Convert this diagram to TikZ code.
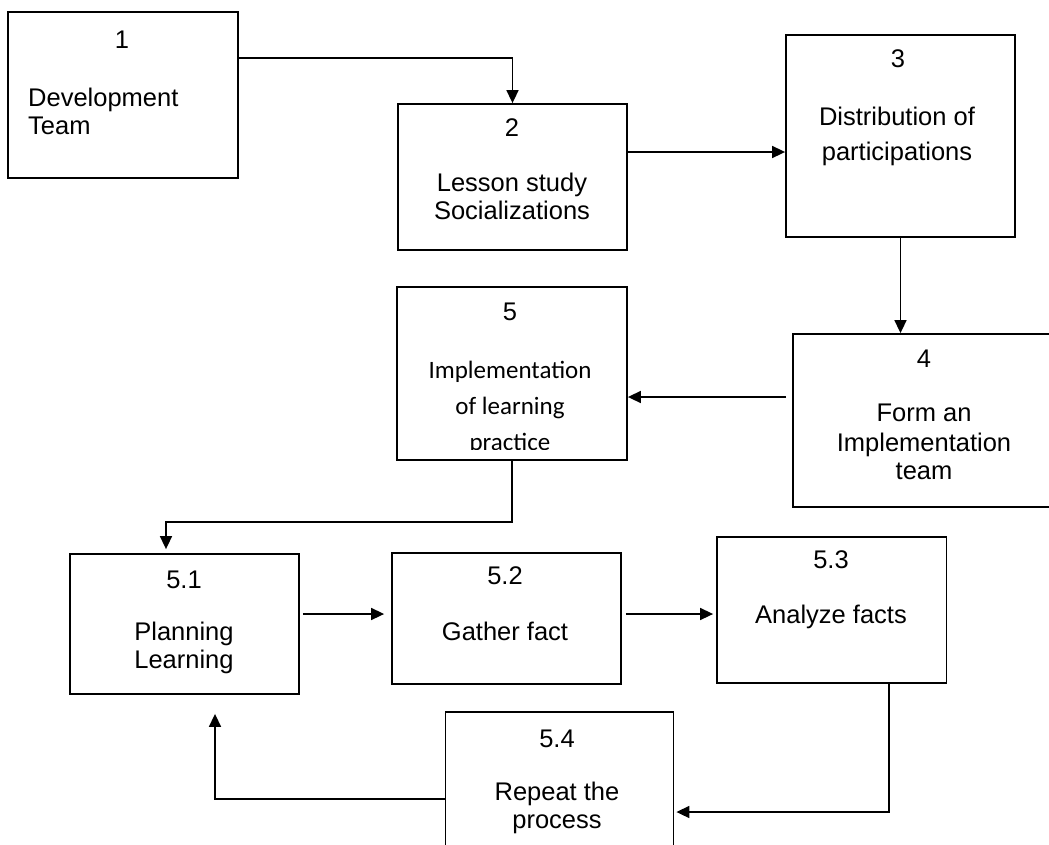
\documentclass[tikz,border=0pt]{standalone}
\usepackage{fontspec}
\setmainfont{Liberation Sans}
\newfontfamily\calfont{Carlito}
\usetikzlibrary{arrows.meta}

\begin{document}
\begin{tikzpicture}[x=1pt, y=-1pt,
    box/.style={draw, line width=1.8pt, inner sep=0pt},
    txt/.style={inner sep=0pt, align=center, font=\fontsize{25.5}{28}\selectfont},
    arr/.style={line width=1.6pt, -{Triangle[length=13pt, width=12pt]}}]

    \useasboundingbox (0,0) rectangle (1049,844);
    \clip (0,0) rectangle (1049,844);

    % boxes
    \node[box, minimum width=230pt, minimum height=166pt] (dev) at (123,95) {};
    \node[box, minimum width=229pt, minimum height=146pt] (lesson) at (512.5,177) {};
    \node[box, minimum width=229pt, minimum height=202pt] (distrib) at (900.5,136) {};
    \node[box, minimum width=262pt, minimum height=173pt] (formteam) at (924,420.5) {};
    \node[box, minimum width=230pt, minimum height=173pt] (implement) at (512,373.5) {};
    \node[box, minimum width=229pt, minimum height=140pt] (plan) at (184.5,624) {};
    \node[box, minimum width=229pt, minimum height=131pt] (gather) at (506.5,618.5) {};
    \node[box, minimum width=229.5pt, minimum height=146pt] (analyze) at (831.75,610) {};
    \node[box, minimum width=228pt, minimum height=148pt] (repeat) at (559.5,786) {};

    % labels
    \node[txt] (dev-num) at (122,40) {1};
    \node[txt, align=left, anchor=west] (dev-txt) at (28,111) {Development\\Team};
    \node[txt] (lesson-num) at (512,128) {2};
    \node[txt] (lesson-txt) at (512,196.5) {Lesson study\\Socializations};
    \node[txt] (distrib-num) at (898,59) {3};
    \node[txt] (distrib-txt) at (897,136) {Distribution of\\[7pt]participations};
    \node[txt] (formteam-num) at (924,359) {4};
    \node[txt] (formteam-txt) at (924,442) {Form an\\[2pt]Implementation\\team};
    \node[txt] (implement-num) at (510,312) {5};
    \begin{scope}
        \clip (397,287) rectangle (627,449);
        \node[txt, font=\calfont\fontsize{25}{36}\selectfont] (implement-txt) at (510,408)
            {Implementation\\of learning\\practice};
    \end{scope}
    \node[txt] (plan-num) at (184,580) {5.1};
    \node[txt] (plan-txt) at (184,647.5) {Planning\\Learning};
    \node[txt] (gather-num) at (505,576) {5.2};
    \node[txt] (gather-txt) at (505,631) {Gather fact};
    \node[txt] (analyze-num) at (831,560) {5.3};
    \node[txt] (analyze-txt) at (831,617) {Analyze facts};
    \node[txt] (repeat-num) at (557,739) {5.4};
    \node[txt] (repeat-txt) at (557,807.5) {Repeat the\\process};

    % connector rows and bends
    \coordinate (r12) at (0,58);
    \coordinate (r23) at (0,152);
    \coordinate (r45) at (0,397);
    \coordinate (r51) at (0,614);
    \coordinate (c5) at (166,522);
    \coordinate (c53) at (889,812);
    \coordinate (c54) at (215,799);

    \draw[arr] (dev.east |- r12) -| (lesson.north);
    \draw[arr] (lesson.east |- r23) -- (distrib.west |- r23);
    \draw[arr] (distrib.south) -- (distrib.south |- formteam.north);
    \draw[arr, shorten <=6pt] (formteam.west |- r45) -- (implement.east |- r45);
    \draw[arr, shorten >=4pt] (implement.south) |- (c5) -- (c5 |- plan.north);
    \draw[arr, shorten <=3pt, shorten >=7pt] (plan.east |- r51) -- (gather.west |- r51);
    \draw[arr, shorten <=4pt, shorten >=3pt] (gather.east |- r51) -- (analyze.west |- r51);
    \draw[arr, shorten >=2pt] (analyze.south -| c53) -- (c53) -- (repeat.east |- c53);
    \draw[arr, shorten >=19pt] (repeat.west |- c54) -- (c54) -- (c54 |- plan.south);

\end{tikzpicture}
\end{document}
